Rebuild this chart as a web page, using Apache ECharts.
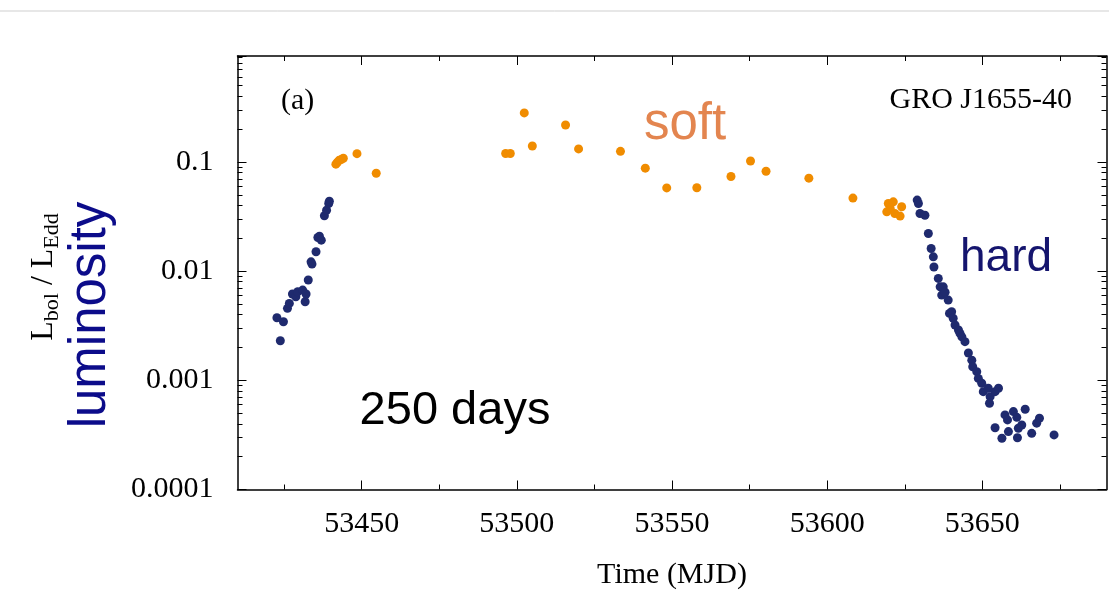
<!DOCTYPE html>
<html>
<head>
<meta charset="utf-8">
<script src="https://cdn.jsdelivr.net/npm/echarts@6/dist/echarts.min.js"></script>
<style>html,body{margin:0;padding:0;background:#fff;}#chart{width:1109px;height:600px;}</style>
</head>
<body>
<div id="chart"></div>
<script>
// ---- data (MJD, L_bol / L_Edd) ----
const hardMJD = [53422.7,53423.8,53424.8,53426.1,53426.7,53427.7,53428.8,53429.4,53431.0,53431.8,53432.1,53432.8,53433.7,53434.0,53435.3,53435.9,53436.4,53437.0,53438.0,53438.7,53439.4,53439.6,
  53629.0,53629.4,53629.9,53631.5,53632.6,53633.5,53634.2,53634.4,53635.8,53636.4,53637.4,53636.9,53638.0,53639.0,53639.4,53640.1,53640.6,53641.2,53642.3,53642.8,53643.4,53644.4,53645.5,53646.6,53646.9,53648.2,53648.7,53649.8,53650.3,53651.9,53652.5,53652.3,53654.1,53655.2,53657.3,53658.1,53660.0,53661.1,53663.8,53662.7,53661.6,53654.1,53658.4,53656.3,53661.3,53665.9,53667.5,53668.4,53673.1];
const hardLum = [0.00374,0.0023,0.00344,0.00456,0.00506,0.00617,0.00582,0.00647,0.0067,0.00524,0.00617,0.00828,0.01216,0.0116,0.01503,0.0203,0.0209,0.0192,0.0321,0.0361,0.0416,0.0436,
  0.0447,0.0416,0.0337,0.0325,0.0221,0.0161,0.0135,0.0109,0.00857,0.00718,0.00718,0.00603,0.0064,0.00543,0.0041,0.00425,0.0037,0.00321,0.00289,0.00269,0.0025,0.00226,0.00178,0.00153,0.00133,0.0012,0.00104,0.00094,0.000787,0.000846,0.000708,0.000616,0.000787,0.000846,0.000482,0.000434,0.000517,0.000458,0.000543,0.00039,0.000364,0.000368,0.000339,0.000295,0.000298,0.000327,0.000405,0.000449,0.000316];
const softMJD = [53441.7,53442.2,53442.8,53443.4,53444.1,53448.5,53454.7,53496.4,53497.9,53502.4,53505.0,53515.7,53519.9,53533.4,53541.4,53548.3,53558.0,53569.0,53575.3,53580.3,53594.1,53608.3,53619.2,53619.7,53620.3,53621.3,53621.8,53623.5,53624.0];
const softLum = [0.0953,0.0994,0.1037,0.105,0.108,0.119,0.0788,0.1194,0.1194,0.281,0.140,0.218,0.1315,0.125,0.0876,0.0578,0.058,0.0735,0.102,0.0822,0.071,0.0466,0.0349,0.0416,0.0377,0.0431,0.0337,0.0319,0.0388];

// ---- axes ----
const xMin = 53410, xMax = 53690;
const xMajorTicks = [53450, 53500, 53550, 53600, 53650];
const xMinorTicks = [53425, 53475, 53525, 53575, 53625, 53675];
const yMin = 0.0001, yMax = 0.933;
const yTickValues = [0.0001, 0.001, 0.01, 0.1];
const yTickLabels = ['0.0001', '0.001', '0.01', '0.1'];
const yMinorMultipliers = [2, 3, 4, 5, 6, 7, 8, 9];

const SERIF = "'Liberation Serif', 'Times New Roman', serif";
const SANS = "'Liberation Sans', Arial, sans-serif";
const BLUE = '#1f2a6e', ORANGE = '#f08c00';

// minor tick positions in log10 space (axis decoration only)
const yMinorLog = [];
yTickValues.forEach(t => yMinorMultipliers.forEach(k => {
  const v = Math.log10(k * t);
  if (v <= Math.log10(yMax)) yMinorLog.push(v);
}));

const frameLine = {show: true, onZero: false, lineStyle: {color: '#000', width: 1.5}};
function xAx(pos, ticks, len, withLabels, line) {
  return {
    type: 'value', min: xMin, max: xMax, position: pos,
    axisLine: line ? frameLine : {show: false, onZero: false},
    axisTick: {show: true, inside: true, length: len, customValues: ticks, lineStyle: {color: '#000', width: 1}},
    axisLabel: withLabels ? {show: true, customValues: xMajorTicks, fontFamily: SERIF, fontSize: 30, color: '#000', margin: 20,
      formatter: v => String(v)} : {show: false},
    splitLine: {show: false}
  };
}
function yLogAx(pos, withLabels) {
  return {
    type: 'log', logBase: 10, min: yMin, max: yMax, position: pos,
    axisLine: frameLine,
    axisTick: {show: true, inside: true, length: 9, lineStyle: {color: '#000', width: 1}},
    axisLabel: withLabels ? {
      show: true, fontFamily: SERIF, fontSize: 30, color: '#000', margin: 24,
      formatter: v => {
        const i = yTickValues.findIndex(t => Math.abs(Math.log10(v) - Math.log10(t)) < 1e-6);
        return i >= 0 ? yTickLabels[i] : '';
      }
    } : {show: false},
    splitLine: {show: false}, minorTick: {show: false}
  };
}
function yMinorAx(pos) {
  return {
    type: 'value', min: Math.log10(yMin), max: Math.log10(yMax), position: pos,
    axisLine: {show: false, onZero: false},
    axisTick: {show: true, inside: true, length: 5, customValues: yMinorLog, lineStyle: {color: '#000', width: 1}},
    axisLabel: {show: false}, splitLine: {show: false}
  };
}

const txt = (s, size, x, y) => ({type: 'text', x: x, y: y,
  style: {text: s, fontFamily: SERIF, fontSize: size, fill: '#000', align: 'left', verticalAlign: 'middle'}});

const chart = echarts.init(document.getElementById('chart'), null, {renderer: 'canvas'});
chart.setOption({
  animation: false,
  backgroundColor: '#fff',
  grid: {left: 237.5, right: 2.5, top: 56, bottom: 110.5},
  xAxis: [
    Object.assign(xAx('bottom', xMajorTicks, 9, true, true), {
      name: 'Time (MJD)', nameLocation: 'middle', nameGap: 71,
      nameTextStyle: {fontFamily: SERIF, fontSize: 30, color: '#000'}
    }),
    xAx('bottom', xMinorTicks, 5, false, false),
    xAx('top', xMajorTicks, 9, false, true),
    xAx('top', xMinorTicks, 5, false, false)
  ],
  yAxis: [
    yLogAx('left', true),
    yMinorAx('left'),
    yLogAx('right', false),
    yMinorAx('right')
  ],
  series: [
    {type: 'scatter', name: 'hard', xAxisIndex: 0, yAxisIndex: 0, symbolSize: 9,
     itemStyle: {color: BLUE, opacity: 1}, data: hardMJD.map((x, i) => [x, hardLum[i]])},
    {type: 'scatter', name: 'soft', xAxisIndex: 0, yAxisIndex: 0, symbolSize: 9,
     itemStyle: {color: ORANGE, opacity: 1}, data: softMJD.map((x, i) => [x, softLum[i]])}
  ],
  graphic: [
    {type: 'line', shape: {x1: 0, y1: 11, x2: 1109, y2: 11}, style: {stroke: '#cfcfcf', lineWidth: 1}, silent: true},
    {type: 'text', x: 281, y: 101, style: {text: '(a)', fontFamily: SERIF, fontSize: 30, fill: '#000', align: 'left', verticalAlign: 'middle'}},
    {type: 'text', x: 1072, y: 100, style: {text: 'GRO J1655-40', fontFamily: SERIF, fontSize: 30, fill: '#000', align: 'right', verticalAlign: 'middle'}},
    {type: 'text', x: 685, y: 125, style: {text: 'soft', fontFamily: SANS, fontSize: 51, fill: '#e3854f', align: 'center', verticalAlign: 'middle'}},
    {type: 'text', x: 1006, y: 258, style: {text: 'hard', fontFamily: SANS, fontSize: 46, fill: '#15156e', align: 'center', verticalAlign: 'middle'}},
    {type: 'text', x: 455, y: 411, style: {text: '250 days', fontFamily: SANS, fontSize: 47, fill: '#000', align: 'center', verticalAlign: 'middle'}},
    {type: 'text', x: 91, y: 315, rotation: Math.PI / 2,
     style: {text: 'luminosity', fontFamily: SANS, fontSize: 51, fill: '#0c0c8a', align: 'center', verticalAlign: 'middle'}},
    {type: 'group', x: 44, y: 277, rotation: Math.PI / 2, children: [
      txt('L', 32, -63.75, 0),
      txt('bol', 22, -44.15, 8),
      txt(' / L', 32, -16.05, 0),
      txt('Edd', 22, 28.35, 8)
    ]}
  ]
});
</script>
</body>
</html>
